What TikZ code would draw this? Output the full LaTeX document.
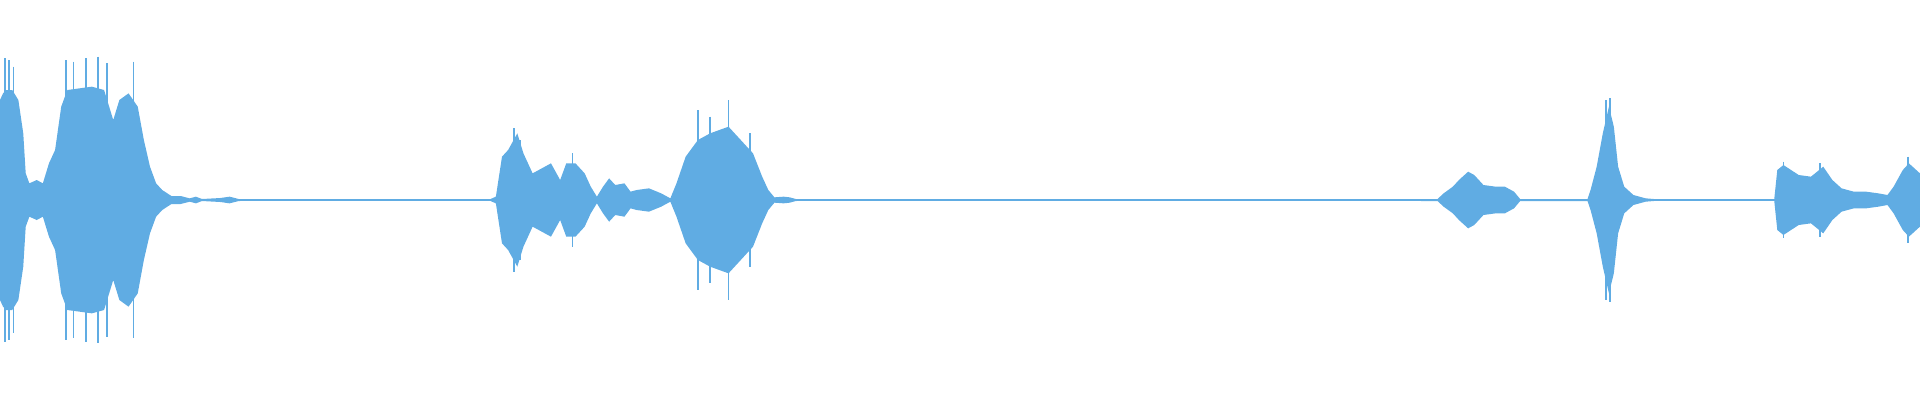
\documentclass[tikz,border=0pt]{standalone}
\definecolor{wave}{RGB}{96,172,227}
\tikzset{
  half/.style={fill=wave},
  spike/.style={draw=wave,line width=0.5pt}
}
\begin{document}
\begin{tikzpicture}[x=0.1mm,y=0.1mm]
  \useasboundingbox (0,-200) rectangle (1920,200);
  \def\envleft{0/300,5/320,10/330,20/330,30/300,38/200,42/80,48/50,60/60,70/50,80/110,90/150,100/280,110/330,130/335,150/340,170/330,185/240,195/300,210/320,225/280,235/180,245/100,255/50,265/30,280/12,295/12,310/5,320/10,330/3,360/6,375/10,390/3,450/2,800/2,810/10,820/130,830/150,845/200,855/140,870/80,880/90,900/110,915/60,925/110,940/110,955/80,965/40,975/10,985/40,995/65,1005/45,1020/50,1030/25,1040/30,1060/35,1080/20,1095/5,1105/50,1120/130,1140/180,1160/200,1190/220,1210/180,1230/140,1245/70,1255/30,1265/8,1280/10,1290/8,1300/3,1340/2,1568/2}
  \def\envright{0/2,780/3,790/20,805/40,815/60,830/85,840/75,855/45,875/40,890/40,905/25,915/3,1025/3,1030/30,1040/100,1050/200,1060/280,1068/220,1075/100,1085/40,1100/15,1120/5,1140/2,1330/2,1335/90,1345/105,1370/75,1390/70,1410/100,1425/60,1440/35,1460/25,1480/25,1500/20,1515/15,1525/40,1540/90,1550/110,1568/80}
  \foreach \s in {1,-1}
  {
    \fill[half] (0,0) \foreach \x/\a in \envleft { -- ({\x*0.6122},{\s*\a/3}) } -- (960,0) -- cycle;
    \fill[half] (960,0) \foreach \x/\a in \envright { -- ({960+\x*0.6122},{\s*\a/3}) } -- (1920,0) -- cycle;
  }
  % peaks above the envelope
  \foreach \x/\a in {8/425,15/420,22/400,108/420,120/415,140/425,160/430,175/410,218/415,840/215,850/180,935/140,1140/270,1160/250,1190/300,1225/200}
    \draw[spike] ({\x*0.6122},{\a/3}) -- ({\x*0.6122},{-\a/3});
  \foreach \x/\a in {1055/300,1062/305,1345/115,1405/110,1548/130}
    \draw[spike] ({960+\x*0.6122},{\a/3}) -- ({960+\x*0.6122},{-\a/3});
  \draw[wave,line width=0.4pt] (0,0) -- (1920,0);
\end{tikzpicture}
\end{document}
